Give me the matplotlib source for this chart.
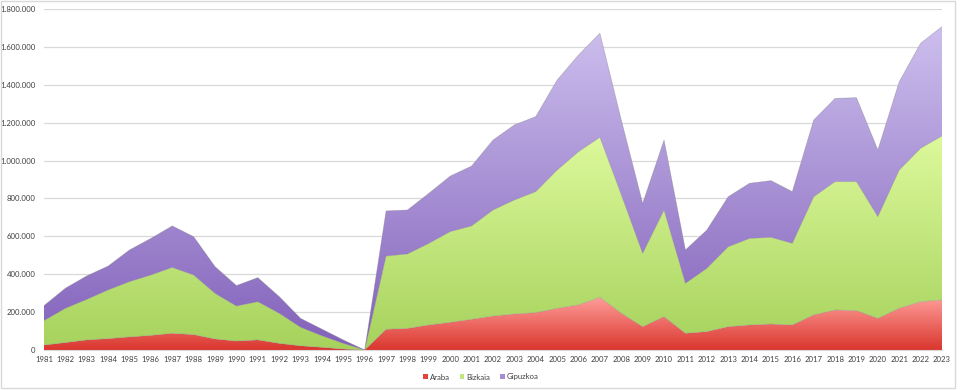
import numpy as np
import matplotlib
matplotlib.use("Agg")
import matplotlib.pyplot as plt
from matplotlib.ticker import FuncFormatter, MultipleLocator
from matplotlib.patches import Patch, Rectangle
from matplotlib.colors import to_rgb

plt.rcParams['font.family'] = ['Lato', 'DejaVu Sans']

years = list(range(1981, 2024))
araba = [26, 39, 53, 60, 69, 77, 88, 81, 58, 47, 53, 35, 22, 14, 5, 0,
         109, 114, 132, 146, 162, 179, 190, 197, 220, 238, 278, 194, 123, 176,
         88, 97, 123, 132, 137, 132, 185, 211, 208, 167, 220, 255, 264]
bizkaia = [129, 181, 214, 257, 292, 319, 348, 315, 241, 185, 202, 159, 98, 61, 30, 0,
           387, 393, 431, 479, 493, 560, 602, 639, 730, 809, 845, 626, 387, 563,
           264, 334, 422, 457, 458, 431, 624, 678, 681, 537, 730, 810, 866]
gipuzkoa = [79, 106, 124, 126, 167, 193, 219, 202, 141, 108, 127, 88, 47, 35, 18, 0,
            238, 232, 264, 293, 316, 369, 396, 396, 475, 510, 549, 394, 264, 369,
            176, 202, 264, 291, 299, 273, 405, 439, 443, 352, 466, 554, 577]
series_names = ["Araba", "Bizkaia", "Gipuzkoa"]
grad_colors = [("#d9362e", "#ff9d98"), ("#a6d25c", "#ddf99c"), ("#8261ba", "#cdbfee")]
legend_colors = ["#e0443c", "#c4e57e", "#a68dd6"]

x = np.array(years, dtype=float)
vals = [np.array(v, dtype=float) * 1000 for v in (araba, bizkaia, gipuzkoa)]

fig = plt.figure(figsize=(9.6, 3.9), dpi=100)
ax = fig.add_axes([44/960, 1-350/390, (942-44)/960, (350-9)/390])

ax.set_xlim(1981, 2023)
ax.set_ylim(0, 1800000)
ax.yaxis.set_major_locator(MultipleLocator(200000))
ax.grid(axis='y', color='#d9d9d9', linewidth=0.9, zorder=0)
ax.set_axisbelow(True)

base = np.zeros_like(x)
for i, v in enumerate(vals):
    top = base + v
    poly = ax.fill_between(x, base, top, facecolor='none', edgecolor='none', zorder=2)
    c0 = np.array(to_rgb(grad_colors[i][0]))
    c1 = np.array(to_rgb(grad_colors[i][1]))
    t = np.linspace(0, 1, 256)[:, None]
    img = (c0[None, :] * (1 - t) + c1[None, :] * t)[:, None, :]
    vmax = top.max()
    im = ax.imshow(img, extent=(1981, 2023, 0, vmax), origin='lower', aspect='auto',
                   zorder=2, interpolation='bilinear')
    path = poly.get_paths()[0]
    im.set_clip_path(path, transform=ax.transData)
    ax.plot(x, top, color='#7f7f7f', linewidth=0.5, alpha=0.45, zorder=3)
    base = top

ax.set_xlim(1981, 2023)
ax.set_ylim(0, 1800000)

ax.set_xticks(years)
ax.set_xticklabels([str(y) for y in years])
ax.yaxis.set_major_formatter(FuncFormatter(lambda v, p: f"{v:,.0f}".replace(',', '.')))
ax.tick_params(axis='both', length=0, labelsize=5.6, colors='#404040')
ax.tick_params(axis='y', pad=6)
ax.tick_params(axis='x', pad=4)
for s in ['top', 'right', 'left']:
    ax.spines[s].set_visible(False)
ax.spines['bottom'].set_color('#d9d9d9')
ax.spines['bottom'].set_linewidth(0.8)

handles = [Patch(facecolor=c, edgecolor='none') for c in legend_colors]
fig.legend(handles, series_names, loc='center', bbox_to_anchor=(481/960, 1-377/390),
           ncol=3, frameon=False, fontsize=5.6, handlelength=0.6, handleheight=0.6,
           columnspacing=1.2, handletextpad=0.3, labelcolor='#404040')

fig.patches.append(Rectangle((1/960, 2/390), 954/960, 387/390, transform=fig.transFigure,
                             fill=False, edgecolor='#d9d9d9', linewidth=1.0))

fig.savefig("out.png", dpi=100)
